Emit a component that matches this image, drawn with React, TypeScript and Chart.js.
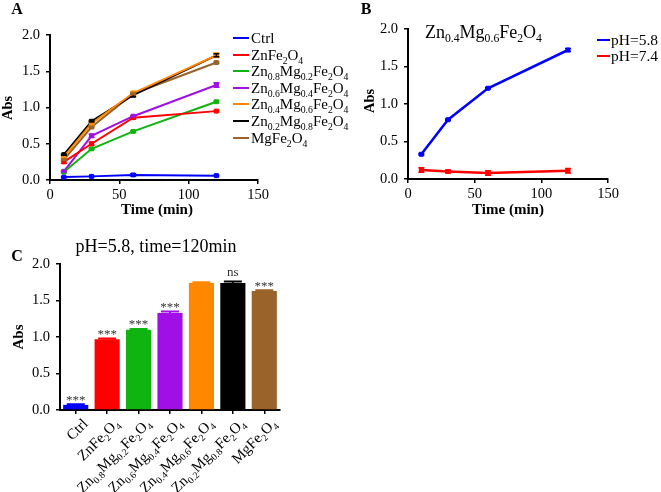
import React, { useEffect, useRef } from 'react';
import { Chart, registerables } from 'chart.js';
Chart.register(...registerables);

const FONT = '"Liberation Serif", "Times New Roman", serif';

// ---------- data ----------
const timesMin = [10, 30, 60, 120];
const seriesNames = [
  'Ctrl',
  'ZnFe{2}O{4}',
  'Zn{0.8}Mg{0.2}Fe{2}O{4}',
  'Zn{0.6}Mg{0.4}Fe{2}O{4}',
  'Zn{0.4}Mg{0.6}Fe{2}O{4}',
  'Zn{0.2}Mg{0.8}Fe{2}O{4}',
  'MgFe{2}O{4}',
];
const seriesColors = ['#0000FF', '#FF0000', '#10B410', '#A010E6', '#FF8800', '#000000', '#99632A'];

const ctrlAbs = [0.04, 0.05, 0.07, 0.06];
const znAbs = [0.25, 0.5, 0.86, 0.95];
const zn08Abs = [0.11, 0.43, 0.67, 1.08];
const zn06Abs = [0.12, 0.61, 0.88, 1.31];
const zn04Abs = [0.32, 0.78, 1.2, 1.72];
const zn02Abs = [0.35, 0.81, 1.17, 1.72];
const mgAbs = [0.28, 0.73, 1.19, 1.62];
const seriesA = [ctrlAbs, znAbs, zn08Abs, zn06Abs, zn04Abs, zn02Abs, mgAbs];

const ctrlErr = [0.005, 0.005, 0.015, 0.005];
const znErr = [0.02, 0.02, 0.02, 0.01];
const zn08Err = [0.01, 0.01, 0.01, 0.01];
const zn06Err = [0.01, 0.02, 0.01, 0.03];
const zn04Err = [0.02, 0.02, 0.02, 0.03];
const zn02Err = [0.01, 0.01, 0.02, 0.02];
const mgErr = [0.01, 0.01, 0.01, 0.01];
const errorsA = [ctrlErr, znErr, zn08Err, zn06Err, zn04Err, zn02Err, mgErr];

const phNames = ['pH=5.8', 'pH=7.4'];
const phColors = ['#0000FF', '#FF0000'];
const ph58Abs = [0.33, 0.79, 1.21, 1.72];
const ph74Abs = [0.12, 0.1, 0.08, 0.11];
const ph58Err = [0.01, 0.01, 0.01, 0.02];
const ph74Err = [0.03, 0.02, 0.03, 0.03];

const barValues = [0.07, 0.97, 1.1, 1.33, 1.74, 1.74, 1.63];
const barErrors = [0.01, 0.01, 0.01, 0.02, 0.01, 0.02, 0.01];
const sigLabels = ['***', '***', '***', '***', '', 'ns', '***'];

const yTicks = [0, 0.5, 1, 1.5, 2];
const xTicks = [0, 50, 100, 150];

// ---------- rich text (subscripts in {}) ----------
type Seg = { t: string; sub: boolean };
function parseRich(s: string): Seg[] {
  const out: Seg[] = [];
  const re = /\{([^}]*)\}/g;
  let last = 0;
  let m: RegExpExecArray | null;
  while ((m = re.exec(s))) {
    if (m.index > last) out.push({ t: s.slice(last, m.index), sub: false });
    out.push({ t: m[1], sub: true });
    last = re.lastIndex;
  }
  if (last < s.length) out.push({ t: s.slice(last), sub: false });
  return out;
}
const SUB = 0.65;
function richWidth(ctx: CanvasRenderingContext2D, s: string, size: number) {
  let w = 0;
  for (const seg of parseRich(s)) {
    ctx.font = `${seg.sub ? size * SUB : size}px ${FONT}`;
    w += ctx.measureText(seg.t).width;
  }
  return w;
}
function drawRich(ctx: CanvasRenderingContext2D, s: string, x: number, y: number, size: number, color = '#000') {
  ctx.save();
  ctx.fillStyle = color;
  ctx.textBaseline = 'alphabetic';
  ctx.textAlign = 'left';
  let cx = x;
  for (const seg of parseRich(s)) {
    const fs = seg.sub ? size * SUB : size;
    ctx.font = `${fs}px ${FONT}`;
    ctx.fillText(seg.t, cx, seg.sub ? y + size * 0.24 : y);
    cx += ctx.measureText(seg.t).width;
  }
  ctx.restore();
}
function drawText(ctx: CanvasRenderingContext2D, s: string, x: number, y: number, font: string, align: CanvasTextAlign = 'center', rot = 0, color = '#000') {
  ctx.save();
  ctx.translate(x, y);
  if (rot) ctx.rotate(rot);
  ctx.font = font;
  ctx.fillStyle = color;
  ctx.textAlign = align;
  ctx.textBaseline = 'middle';
  ctx.fillText(s, 0, 0);
  ctx.restore();
}

// ---------- error bars plugin ----------
const errorBarPlugin = {
  id: 'errbars',
  afterDatasetsDraw(chart: any) {
    const ctx = chart.ctx;
    const ys = chart.scales.y;
    chart.data.datasets.forEach((ds: any, di: number) => {
      if (!ds.errors) return;
      const meta = chart.getDatasetMeta(di);
      meta.data.forEach((el: any, i: number) => {
        const v = ds.data[i];
        const val = typeof v === 'number' ? v : v.y;
        const e = ds.errors[i];
        const x = el.x;
        const y1 = ys.getPixelForValue(val + e);
        const y0 = ys.getPixelForValue(val - e);
        const half = ds.capHalf ?? 3.5;
        ctx.save();
        ctx.strokeStyle = ds.borderColor;
        ctx.lineWidth = 1.5;
        ctx.beginPath();
        ctx.moveTo(x, y0);
        ctx.lineTo(x, y1);
        ctx.moveTo(x - half, y0);
        ctx.lineTo(x + half, y0);
        ctx.moveTo(x - half, y1);
        ctx.lineTo(x + half, y1);
        ctx.stroke();
        ctx.restore();
      });
    });
  },
};

const axisCommon = (fit: (s: any) => void, tickOpts: any) => ({
  grid: { drawOnChartArea: false, drawTicks: true, tickLength: 4, color: '#000', lineWidth: 1.5 },
  border: { display: true, color: '#000', width: 2 },
  ticks: { color: '#000', font: { family: FONT, size: 14.5 }, ...tickOpts },
  afterFit: fit,
});

function lineOptions(pad: any, yWidth: number, xHeight: number) {
  return {
    responsive: false,
    animation: false as const,
    devicePixelRatio: 1,
    layout: { padding: pad },
    plugins: { legend: { display: false }, tooltip: { enabled: false }, title: { display: false } },
    scales: {
      x: {
        type: 'linear' as const,
        min: 0,
        max: 150,
        afterBuildTicks: (s: any) => { s.ticks = xTicks.map((v) => ({ value: v })); },
        ...axisCommon((s: any) => { s.height = xHeight; }, { padding: 2, callback: (v: any) => String(v) }),
      },
      y: {
        min: 0,
        max: 2,
        afterBuildTicks: (s: any) => { s.ticks = yTicks.map((v) => ({ value: v })); },
        ...axisCommon((s: any) => { s.width = yWidth; }, { padding: 6, callback: (v: any) => Number(v).toFixed(1) }),
      },
    },
  };
}

export default function App() {
  const refA = useRef<HTMLCanvasElement>(null);
  const refB = useRef<HTMLCanvasElement>(null);
  const refC = useRef<HTMLCanvasElement>(null);

  useEffect(() => {
    const charts: Chart[] = [];

    // ---------- Panel A ----------
    const decorA = {
      id: 'decorA',
      afterDraw(chart: any) {
        const ctx = chart.ctx;
        const ca = chart.chartArea;
        drawText(ctx, 'A', 17, 10, `bold 16px ${FONT}`);
        drawText(ctx, 'Abs', 8, 108, `bold 14.5px ${FONT}`, 'center', -Math.PI / 2);
        drawText(ctx, 'Time (min)', (ca.left + ca.right) / 2 + 3, 210, `bold 15px ${FONT}`);
        const ys = [38, 55, 71, 88, 104, 121, 138];
        seriesNames.forEach((n, i) => {
          ctx.save();
          ctx.strokeStyle = seriesColors[i];
          ctx.lineWidth = 2;
          ctx.beginPath();
          ctx.moveTo(233, ys[i]);
          ctx.lineTo(249, ys[i]);
          ctx.stroke();
          ctx.restore();
          drawRich(ctx, n, 251, ys[i] + 5, 15);
        });
      },
    };
    charts.push(
      new Chart(refA.current!, {
        type: 'line',
        data: {
          datasets: seriesA.map((vals, i) => ({
            label: seriesNames[i],
            data: vals.map((y, k) => ({ x: timesMin[k], y })),
            borderColor: seriesColors[i],
            backgroundColor: seriesColors[i],
            borderWidth: 2,
            pointStyle: 'rect',
            pointRadius: 2.8,
            pointBorderWidth: 1,
            errors: errorsA[i],
            capHalf: 3,
          })) as any,
        },
        options: lineOptions({ left: 0, top: 35, right: 92, bottom: 0 }, 50, 55) as any,
        plugins: [errorBarPlugin, decorA],
      })
    );

    // ---------- Panel B ----------
    const decorB = {
      id: 'decorB',
      afterDraw(chart: any) {
        const ctx = chart.ctx;
        const ca = chart.chartArea;
        drawText(ctx, 'B', 26, 10, `bold 16px ${FONT}`);
        drawText(ctx, 'Abs', 30, 101, `bold 14.5px ${FONT}`, 'center', -Math.PI / 2);
        drawText(ctx, 'Time (min)', (ca.left + ca.right) / 2, 210, `bold 15px ${FONT}`);
        drawRich(ctx, 'Zn{0.4}Mg{0.6}Fe{2}O{4}', 85, 38, 18);
        const ys = [40, 56];
        phNames.forEach((n, i) => {
          ctx.save();
          ctx.strokeStyle = phColors[i];
          ctx.lineWidth = 2;
          ctx.beginPath();
          ctx.moveTo(257, ys[i]);
          ctx.lineTo(270, ys[i]);
          ctx.stroke();
          ctx.restore();
          drawRich(ctx, n, 271, ys[i] + 5, 15.5);
        });
      },
    };
    charts.push(
      new Chart(refB.current!, {
        type: 'line',
        data: {
          datasets: [ph58Abs, ph74Abs].map((vals, i) => ({
            label: phNames[i],
            data: vals.map((y, k) => ({ x: timesMin[k], y })),
            borderColor: phColors[i],
            backgroundColor: phColors[i],
            borderWidth: 2.5,
            pointStyle: 'rect',
            pointRadius: 2.8,
            pointBorderWidth: 1,
            errors: [ph58Err, ph74Err][i],
            capHalf: 3,
          })) as any,
        },
        options: lineOptions({ left: 0, top: 29, right: 53, bottom: 0 }, 68, 51) as any,
        plugins: [errorBarPlugin, decorB],
      })
    );

    // ---------- Panel C ----------
    const decorC = {
      id: 'decorC',
      afterDraw(chart: any) {
        const ctx = chart.ctx;
        const ca = chart.chartArea;
        const xs = chart.scales.x;
        const yS = chart.scales.y;
        drawText(ctx, 'C', 17, 29, `bold 16px ${FONT}`);
        drawText(ctx, 'Abs', 19, 109, `bold 15px ${FONT}`, 'center', -Math.PI / 2);
        ctx.save();
        ctx.font = `18px ${FONT}`;
        ctx.fillStyle = '#000';
        ctx.textAlign = 'center';
        ctx.textBaseline = 'alphabetic';
        ctx.fillText('pH=5.8, time=120min', 156, 24);
        ctx.restore();
        // significance marks
        barValues.forEach((v, i) => {
          const s = sigLabels[i];
          if (!s) return;
          const x = xs.getPixelForValue(i);
          const top = yS.getPixelForValue(v + barErrors[i]);
          ctx.save();
          ctx.font = `13px ${FONT}`;
          ctx.fillStyle = '#333';
          ctx.textAlign = 'center';
          ctx.textBaseline = 'alphabetic';
          const m = ctx.measureText(s);
          const target = s === 'ns' ? top - 9 : top - 6;
          const by = target + (m.actualBoundingBoxAscent - m.actualBoundingBoxDescent) / 2;
          ctx.fillText(s, x, by);
          ctx.restore();
        });
        // rotated category labels
        seriesNames.forEach((n, i) => {
          const x = xs.getPixelForValue(i);
          const size = 15;
          ctx.save();
          ctx.translate(x + 9.5, ca.bottom + 11);
          ctx.rotate(-Math.PI / 4);
          const w = richWidth(ctx, n, size);
          drawRich(ctx, n, -w, size * 0.33, size);
          ctx.restore();
        });
      },
    };
    charts.push(
      new Chart(refC.current!, {
        type: 'bar',
        data: {
          labels: seriesNames,
          datasets: [
            {
              data: barValues,
              backgroundColor: seriesColors,
              borderColor: seriesColors,
              borderWidth: 0,
              categoryPercentage: 1,
              barPercentage: 0.8,
            } as any,
          ],
        },
        options: {
          responsive: false,
          animation: false,
          devicePixelRatio: 1,
          layout: { padding: { left: 0, top: 36, right: 60, bottom: 0 } },
          plugins: { legend: { display: false }, tooltip: { enabled: false } },
          scales: {
            x: {
              type: 'category',
              grid: { drawOnChartArea: false, drawTicks: true, tickLength: 4, color: '#000', lineWidth: 1.5, offset: false },
              border: { display: true, color: '#000', width: 2 },
              ticks: { display: false },
              afterFit: (s: any) => { s.height = 82; },
            },
            y: {
              min: 0,
              max: 2,
              afterBuildTicks: (s: any) => { s.ticks = yTicks.map((v) => ({ value: v })); },
              ...axisCommon((s: any) => { s.width = 60; }, { padding: 6, callback: (v: any) => Number(v).toFixed(1) }),
            },
          },
        } as any,
        plugins: [
          {
            id: 'barErr',
            afterDatasetsDraw(chart: any) {
              const ctx = chart.ctx;
              const ys = chart.scales.y;
              const meta = chart.getDatasetMeta(0);
              meta.data.forEach((el: any, i: number) => {
                const yTop = ys.getPixelForValue(barValues[i] + barErrors[i]);
                const yv = ys.getPixelForValue(barValues[i]);
                ctx.save();
                ctx.strokeStyle = seriesColors[i];
                ctx.lineWidth = 2;
                ctx.beginPath();
                ctx.moveTo(el.x, yv);
                ctx.lineTo(el.x, yTop);
                ctx.moveTo(el.x - 9, yTop);
                ctx.lineTo(el.x + 9, yTop);
                ctx.stroke();
                ctx.restore();
              });
            },
          },
          decorC,
        ],
      })
    );

    return () => charts.forEach((c) => c.destroy());
  }, []);

  return (
    <div style={{ position: 'absolute', left: 0, top: 0, width: 661, height: 492, background: '#fff', overflow: 'hidden' }}>
      <canvas ref={refA} width={350} height={235} style={{ position: 'absolute', left: 0, top: 0 }} />
      <canvas ref={refB} width={321} height={230} style={{ position: 'absolute', left: 340, top: 0 }} />
      <canvas ref={refC} width={340} height={264} style={{ position: 'absolute', left: 0, top: 228 }} />
    </div>
  );
}
